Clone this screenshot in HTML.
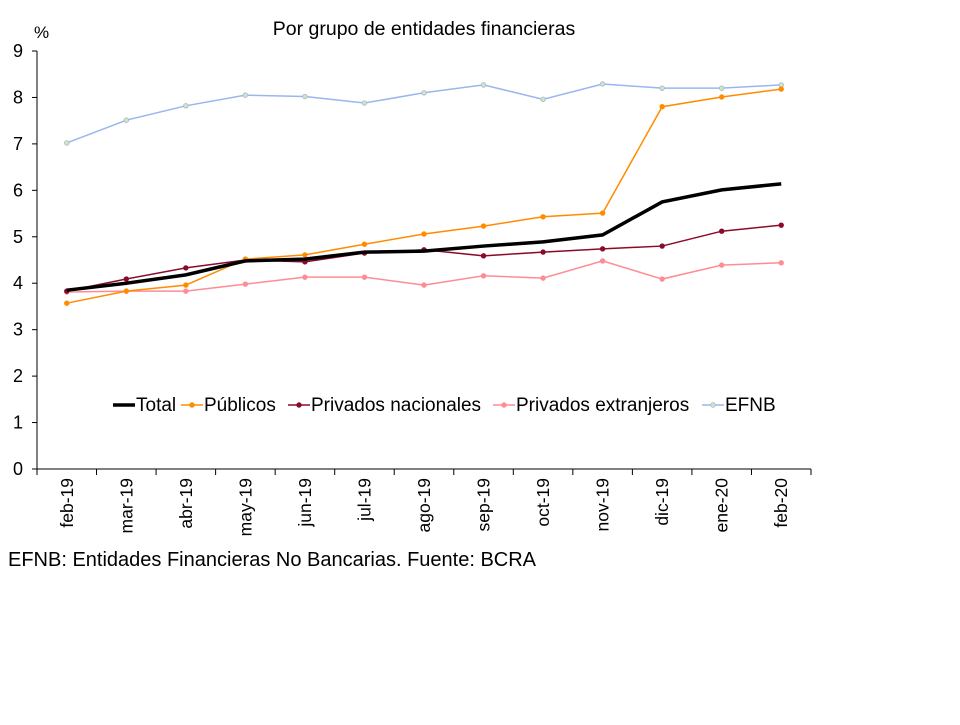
<!DOCTYPE html>
<html><head><meta charset="utf-8"><style>
body{margin:0;background:#fff;}
svg text{font-family:"Liberation Sans",Arial,sans-serif;fill:#000;}
</style></head><body>
<svg id="c" width="960" height="720">
<text x="424" y="35" font-size="19.5" text-anchor="middle">Por grupo de entidades financieras</text>
<text x="34" y="38" font-size="17">%</text>
<text x="8" y="566" font-size="20">EFNB: Entidades Financieras No Bancarias. Fuente: BCRA</text>
<g id="axes"></g><g id="series"></g><g id="legend"></g>
</svg>
<script>
const categories=["feb-19","mar-19","abr-19","may-19","jun-19","jul-19","ago-19","sep-19","oct-19","nov-19","dic-19","ene-20","feb-20"];
const yTicks=[0,1,2,3,4,5,6,7,8,9];
const total=[3.85,4.0,4.18,4.48,4.52,4.67,4.69,4.8,4.89,5.04,5.75,6.01,6.14];
const publicos=[3.57,3.83,3.96,4.52,4.61,4.84,5.06,5.23,5.43,5.51,7.8,8.01,8.18];
const privNac=[3.83,4.09,4.33,4.5,4.46,4.65,4.72,4.59,4.67,4.74,4.8,5.12,5.25];
const privExt=[3.81,3.83,3.83,3.98,4.13,4.13,3.96,4.16,4.11,4.48,4.09,4.39,4.44];
const efnb=[7.02,7.51,7.82,8.05,8.02,7.88,8.1,8.27,7.96,8.29,8.2,8.2,8.27];
const NS="http://www.w3.org/2000/svg";
const x0=37,x1=811,y0=469,y9=51;
const step=(x1-x0)/categories.length;
const X=i=>x0+step*(i+0.5);
const Y=v=>y0-(y0-y9)*v/9;
function mk(t,a,p){const e=document.createElementNS(NS,t);for(const k in a)e.setAttribute(k,a[k]);p.appendChild(e);return e;}
const ax=document.getElementById('axes');
let l=mk('line',{x1:x0,y1:y0,x2:x1,y2:y0,stroke:'#000'},ax);


l=mk('line',{x1:x0,y1:y0,x2:x0,y2:y9,stroke:'#000'},ax);


yTicks.forEach(v=>{
 mk('line',{x1:x0-5,y1:Y(v),x2:x0,y2:Y(v),stroke:'#000'},ax);
 const t=mk('text',{x:x0-14,y:Y(v)+6,'font-size':18,'text-anchor':'end'},ax);t.textContent=v;
 
 
});
categories.forEach((c,i)=>{
 mk('line',{x1:x0+step*i,y1:y0,x2:x0+step*i,y2:y0+6,stroke:'#000'},ax);
 const t=mk('text',{x:0,y:0,'font-size':17.5,'text-anchor':'end',transform:`translate(${X(i)+6},${y0+9}) rotate(-90)`},ax);t.textContent=c;
 
 
});
mk('line',{x1:x1,y1:y0,x2:x1,y2:y0+6,stroke:'#000'},ax);
const S=[
 {n:'EFNB',d:efnb,c:'#9bb5f0',w:1.5,m:true,mf:'#d6e8a8'},
 {n:'Privados extranjeros',d:privExt,c:'#ff8c94',w:1.5,m:true,mf:'#ff8c94'},
 {n:'Privados nacionales',d:privNac,c:'#8b0a2a',w:1.5,m:true,mf:'#8b0a2a'},
 {n:'Públicos',d:publicos,c:'#ff8c00',w:1.5,m:true,mf:'#ff8c00'},
 {n:'Total',d:total,c:'#000',w:3.5,m:false}
];
const sg=document.getElementById('series');
S.forEach(s=>{
 const g=mk('g',{},sg);
 
 
 mk('polyline',{points:s.d.map((v,i)=>X(i)+','+Y(v)).join(' '),fill:'none',stroke:s.c,'stroke-width':s.w},g);
 if(s.m)s.d.forEach((v,i)=>{const p=mk('circle',{cx:X(i),cy:Y(v),r:2.3,fill:s.mf,stroke:s.c,'stroke-width':0.8},g);
  
  });
});
const lg=document.getElementById('legend');
const L=[['Total','#000',3.5,113,false],['Públicos','#ff8c00',1.5,181,true],['Privados nacionales','#8b0a2a',1.5,288,true],['Privados extranjeros','#ff8c94',1.5,493,true],['EFNB','#9bb5f0',1.5,702,true]];
L.forEach(e=>{
 const g=mk('g',{},lg);
 
 
 mk('line',{x1:e[3],y1:405,x2:e[3]+22,y2:405,stroke:e[1],'stroke-width':e[2]},g);
 if(e[4])mk('circle',{cx:e[3]+11,cy:405,r:2.3,fill:e[0]=='EFNB'?'#d6e8a8':e[1],stroke:e[1],'stroke-width':0.8},g);
 const t=mk('text',{x:e[3]+23,y:411,'font-size':19},g);t.textContent=e[0];
});
</script>
</body></html>
